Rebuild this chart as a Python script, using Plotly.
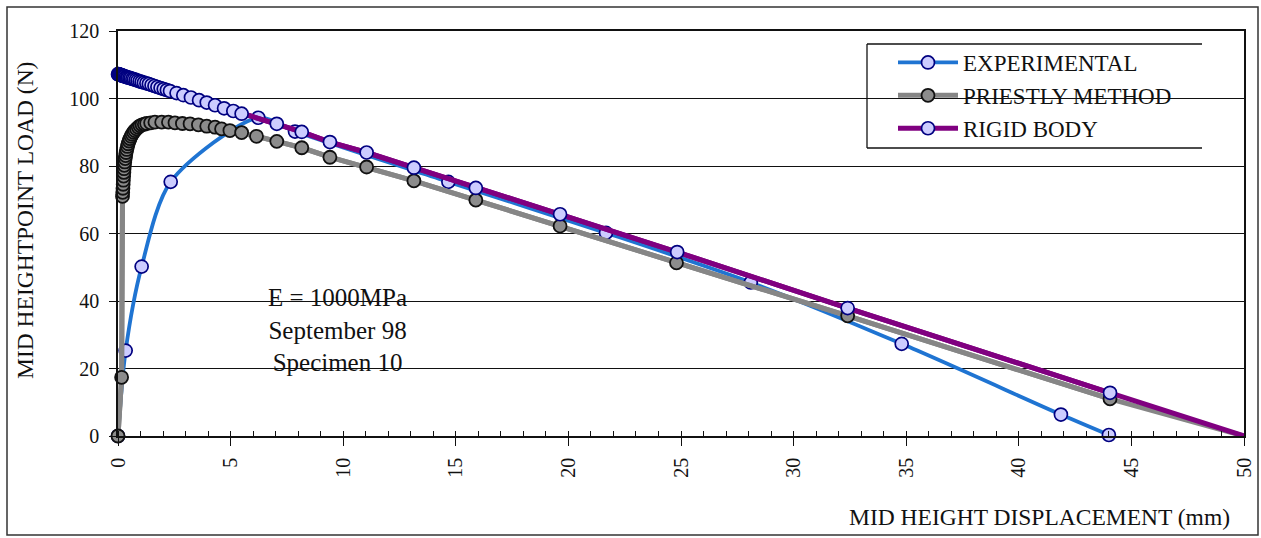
import plotly.graph_objects as go

# ---------------- data ----------------
EXP_X = [0.0, 0.34, 1.05, 2.34, 6.23, 7.86, 14.67, 21.67, 28.1, 34.8, 41.87, 44.0]
EXP_Y = [0.0, 25.3, 50.2, 75.3, 94.3, 90.2, 75.3, 60.2, 45.5, 27.3, 6.35, 0.3]

PR_X = [0.0, 0.16, 0.2, 0.21, 0.22, 0.23, 0.24, 0.25, 0.26, 0.27,
        0.28, 0.3, 0.32, 0.34, 0.36, 0.39, 0.42, 0.45, 0.49, 0.53,
        0.58, 0.63, 0.69, 0.75, 0.82, 0.9, 0.98, 1.07, 1.17, 1.27,
        1.45, 1.64, 1.94, 2.24, 2.53, 2.86, 3.2, 3.57, 3.94, 4.31,
        4.6, 4.97, 5.49, 6.15, 7.05, 8.16, 9.41, 11.04, 13.14, 15.89,
        19.63, 24.8, 32.4, 44.05, 50.0]
PR_Y = [0.0, 17.4, 71.0, 72.2, 73.4, 74.6, 75.8, 77.0, 78.1, 79.2,
        80.2, 81.2, 82.2, 83.1, 84.0, 84.9, 85.8, 86.6, 87.4, 88.1,
        88.8, 89.4, 90.0, 90.5, 91.0, 91.5, 91.9, 92.2, 92.4, 92.6,
        92.8, 93.0, 93.0, 93.0, 92.8, 92.6, 92.5, 92.2, 91.8, 91.5,
        91.0, 90.5, 89.9, 88.8, 87.3, 85.4, 82.6, 79.7, 75.6, 69.9,
        62.2, 51.3, 35.6, 11.0, 0.0]

RB_X = [0.0, 0.02, 0.04, 0.06, 0.08, 0.1, 0.13, 0.16, 0.19, 0.22,
        0.26, 0.3, 0.35, 0.4, 0.45, 0.51, 0.57, 0.64, 0.71, 0.79,
        0.87, 0.96, 1.05, 1.15, 1.26, 1.37, 1.49, 1.62, 1.75, 1.89,
        2.03, 2.17, 2.31, 2.6, 2.9, 3.24, 3.6, 3.94, 4.31, 4.71,
        5.12, 5.49, 7.05, 8.16, 9.41, 11.04, 13.14, 15.89, 19.63, 24.83,
        32.4, 44.05, 50.0]
RB_Y = [107.2, 107.2, 107.1, 107.1, 107.0, 107.0, 106.9, 106.9, 106.8, 106.7,
        106.6, 106.6, 106.4, 106.3, 106.2, 106.1, 106.0, 105.8, 105.7, 105.5,
        105.3, 105.1, 104.9, 104.7, 104.5, 104.3, 104.0, 103.7, 103.4, 103.1,
        102.8, 102.5, 102.2, 101.6, 101.0, 100.3, 99.5, 98.8, 98.0, 97.1,
        96.3, 95.5, 92.5, 90.1, 87.1, 84.0, 79.5, 73.5, 65.7, 54.5,
        37.9, 12.8, 0.0]

SERIES_NAMES = ["EXPERIMENTAL", "PRIESTLY METHOD", "RIGID BODY"]
X_TICKS = [0, 5, 10, 15, 20, 25, 30, 35, 40, 45, 50]
Y_TICKS = [0, 20, 40, 60, 80, 100, 120]
NOTE_LINES = ["E = 1000MPa", "September 98", "Specimen 10"]
X_TITLE = "MID HEIGHT DISPLACEMENT (mm)"
Y_TITLE = "MID HEIGHTPOINT LOAD (N)"

# ---------------- styling ----------------
FONT = "Liberation Serif"
BLUE = "#1f74d2"
GRAY = "#868686"
PURPLE = "#800080"
LAV = "#ccccff"
NAVY = "#000080"
MS = 13

fig = go.Figure()

# Experimental
fig.add_trace(go.Scatter(
    x=EXP_X, y=EXP_Y, name=SERIES_NAMES[0], mode="lines+markers",
    line=dict(color=BLUE, width=3.8, shape="spline", smoothing=0.8),
    marker=dict(size=MS, color=LAV, line=dict(color=NAVY, width=1.7)),
    cliponaxis=False, legendrank=1))

# Priestly: full line (no marker on the final point) + markers
fig.add_trace(go.Scatter(
    x=PR_X, y=PR_Y, mode="lines", showlegend=False, hoverinfo="skip",
    line=dict(color=GRAY, width=5)))
fig.add_trace(go.Scatter(
    x=PR_X[:-1], y=PR_Y[:-1], name=SERIES_NAMES[1], mode="lines+markers",
    line=dict(color=GRAY, width=5),
    marker=dict(size=MS, color="#8c8c8c", line=dict(color="#111111", width=1.8)),
    cliponaxis=False, legendrank=2))

# Rigid body
fig.add_trace(go.Scatter(
    x=RB_X, y=RB_Y, mode="lines", showlegend=False, hoverinfo="skip",
    line=dict(color=PURPLE, width=5)))
fig.add_trace(go.Scatter(
    x=RB_X[:-1], y=RB_Y[:-1], name=SERIES_NAMES[2], mode="lines+markers",
    line=dict(color=PURPLE, width=5),
    marker=dict(size=MS, color=LAV, line=dict(color=NAVY, width=1.7)),
    cliponaxis=False, legendrank=3))

W, H = 1261, 538
ML, MR, MT, MB = 118, 17, 31, 102
PW, PH = W - ML - MR, H - MT - MB


def px(xp):
    return (xp - ML) / PW


def py(yp):
    return (H - MB - yp) / PH


shapes = [
    # white box behind the note
    dict(type="rect", xref="paper", yref="paper", layer="between",
         x0=px(217), x1=px(457), y0=py(392), y1=py(246),
         fillcolor="white", line=dict(width=0)),
    # legend box (white, left/top/bottom borders only)
    dict(type="rect", xref="paper", yref="paper", layer="between",
         x0=px(867), x1=px(1202), y0=py(148), y1=py(44),
         fillcolor="white", line=dict(width=0)),
    dict(type="line", xref="paper", yref="paper", layer="above",
         x0=px(867), x1=px(867), y0=py(148), y1=py(44),
         line=dict(color="#111111", width=1.3)),
    dict(type="line", xref="paper", yref="paper", layer="above",
         x0=px(867), x1=px(1202), y0=py(44), y1=py(44),
         line=dict(color="#111111", width=1.3)),
    dict(type="line", xref="paper", yref="paper", layer="above",
         x0=px(867), x1=px(1202), y0=py(148), y1=py(148),
         line=dict(color="#111111", width=1.3)),
    # outer frame of the chart
    dict(type="rect", xref="paper", yref="paper", layer="above",
         x0=px(7), x1=px(1258), y0=py(535), y1=py(7),
         line=dict(color="#333333", width=1.5)),
]

annotations = [
    dict(text="<br>".join(NOTE_LINES), xref="paper", yref="paper",
         x=px(337), y=py(330), xanchor="center", yanchor="middle",
         showarrow=False, align="center",
         font=dict(family=FONT, size=25, color="#111111")),
    dict(text=X_TITLE, xref="paper", yref="paper",
         x=px(1232), y=py(517), xanchor="right", yanchor="middle",
         showarrow=False, font=dict(family=FONT, size=23.5, color="#111111")),
    dict(text=Y_TITLE, xref="paper", yref="paper", textangle=-90,
         x=px(25), y=py(221), xanchor="center", yanchor="middle",
         showarrow=False, font=dict(family=FONT, size=23.5, color="#111111")),
]

fig.update_layout(
    width=W, height=H,
    margin=dict(l=ML, r=MR, t=MT, b=MB, autoexpand=False),
    paper_bgcolor="white", plot_bgcolor="white",
    font=dict(family=FONT, size=20, color="#111111"),
    shapes=shapes, annotations=annotations,
    showlegend=True,
    legend=dict(x=px(893), y=py(41), xanchor="left", yanchor="top",
                bgcolor="rgba(0,0,0,0)", borderwidth=0,
                font=dict(family=FONT, size=23, color="#111111"),
                itemwidth=60, tracegroupgap=0),
)

fig.update_xaxes(
    range=[0, 50], tickvals=X_TICKS, ticktext=[str(v) for v in X_TICKS],
    tickangle=-90, ticks="outside", ticklen=8, tickwidth=1.3, tickcolor="#111111",
    minor=dict(dtick=1, ticks="inside", ticklen=5, tickwidth=1.2, tickcolor="#111111"),
    showline=True, linecolor="#111111", linewidth=1.5, mirror=True,
    showgrid=False, zeroline=False, ticklabelstandoff=4,
    tickfont=dict(family=FONT, size=20, color="#111111"))

fig.update_yaxes(
    range=[0, 120], tickvals=Y_TICKS, ticktext=[str(v) for v in Y_TICKS],
    ticks="outside", ticklen=7, tickwidth=1.3, tickcolor="#111111",
    showline=True, linecolor="#111111", linewidth=1.5, mirror=True,
    showgrid=True, gridcolor="#111111", gridwidth=1, zeroline=False,
    ticklabelstandoff=6,
    tickfont=dict(family=FONT, size=20, color="#111111"))

fig.write_html("out.html")
